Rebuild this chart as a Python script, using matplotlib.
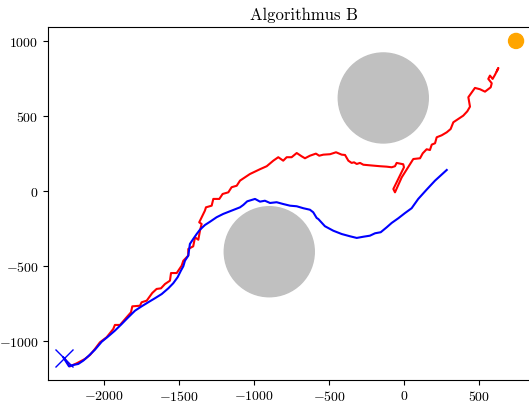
import matplotlib
matplotlib.use("Agg")
import matplotlib.pyplot as plt
from matplotlib.patches import Circle

plt.rcParams['font.family'] = 'serif'
plt.rcParams['font.serif'] = ['cmr10']
plt.rcParams['mathtext.fontset'] = 'cm'
plt.rcParams['axes.formatter.use_mathtext'] = True

# Red trajectory
red_x = [-2262, -2229, -2184, -2129, -2095, -2062, -2029, -1984, -1940, -1929, -1895, -1851,
         -1822, -1813, -1762, -1751, -1717, -1680, -1651, -1622, -1595, -1562, -1555, -1517,
         -1484, -1473, -1440, -1440, -1407, -1395, -1373, -1362, -1351, -1367, -1329, -1322,
         -1284, -1273, -1233, -1211, -1173, -1151, -1117, -1095, -1029, -962, -917, -873,
         -840, -807, -784, -751, -717, -684, -662, -629, -589, -567, -540, -495, -455, -417,
         -395, -373, -351, -335, -317, -295, -273, -251, -207, -162, -117, -84, -62, -51,
         -7, -2, -73, -62, -17, 60, 105, 123, 149, 171, 183, 205, 216, 249, 283, 309, 327,
         360, 393, 420, 438, 427, 471, 505, 538, 576, 583, 560, 571, 589, 605, 627, 618]
red_y = [-1120, -1169, -1149, -1120, -1093, -1053, -1009, -975, -920, -893, -893, -842,
         -809, -769, -765, -742, -731, -680, -653, -649, -620, -598, -547, -547,
         -498, -465, -431, -387, -369, -309, -325, -265, -220, -209, -131, -109,
         -98, -53, -53, -20, -9, 25, 35, 69, 113, 145, 165, 202,
         225, 202, 225, 225, 253, 231, 218, 235, 249, 235, 242, 245, 258, 242,
         240, 202, 187, 191, 180, 187, 175, 173, 169, 165, 162, 158, 165, 187,
         178, 158, 13, -9, 91, 213, 218, 251, 278, 273, 309, 318, 358, 371, 391, 413, 458,
         480, 502, 531, 562, 625, 687, 678, 662, 691, 718, 747, 769, 747, 775, 820, 800]

# Blue trajectory
blue_x = [-2273, -2235, -2207, -2173, -2140, -2107, -2062, -2017, -1973, -1929, -1884, -1840,
          -1795, -1751, -1707, -1662, -1617, -1573, -1540, -1511, -1489, -1473, -1462, -1440,
          -1429, -1407, -1384, -1362, -1329, -1295, -1251, -1207, -1151, -1095, -1073, -1047,
          -995, -962, -929, -895, -851, -807, -762, -717, -673, -629, -607, -584, -573,
          -529, -473, -417, -362, -317, -273, -229, -195, -157, -117, -84, -40, 5, 49, 93,
          149, 205, 283]
blue_y = [-1109, -1169, -1160, -1153, -1131, -1102, -1058, -1005, -969, -931, -887, -842,
          -798, -769, -742, -715, -687, -649, -615, -575, -531, -502, -465, -431,
          -353, -320, -287, -258, -227, -205, -175, -153, -131, -109, -93, -69,
          -53, -71, -65, -80, -75, -87, -98, -102, -115, -125, -142, -180, -187,
          -235, -265, -287, -302, -313, -305, -298, -282, -275, -242, -213, -182, -147, -115, -53,
          9, 69, 140]

# Obstacles (center x, center y, radius)
obst_x = [-140, -900]
obst_y = [620, -405]
obst_r = [300, 300]

goal_x, goal_y, goal_r = 745, 1000, 50
start_x, start_y = -2270, -1115

fig = plt.figure(figsize=(5.29, 4.10), dpi=100)
ax = fig.add_axes([48.3/529, 29.3/410, (560-48.3)/529, 352.4/410])

for cx, cy, r in zip(obst_x, obst_y, obst_r):
    ax.add_patch(Circle((cx, cy), r, color='#c0c0c0', zorder=1))
ax.add_patch(Circle((goal_x, goal_y), goal_r, color='orange', zorder=1))

ax.plot(red_x, red_y, color='red', lw=1.5, zorder=2)
ax.plot(blue_x, blue_y, color='blue', lw=1.5, zorder=3)
ax.plot([start_x], [start_y], marker='x', color='blue', markersize=13, mew=1.0, zorder=4)

ax.set_xlim(-2373, 1038)
ax.set_ylim(-1258, 1091)
ax.set_xticks([-2000, -1500, -1000, -500, 0, 500])
ax.set_yticks([-1000, -500, 0, 500, 1000])
ax.tick_params(labelsize=10)
ax.set_title('Algorithmus B', fontsize=12)

fig.savefig('out.png', dpi=100)
